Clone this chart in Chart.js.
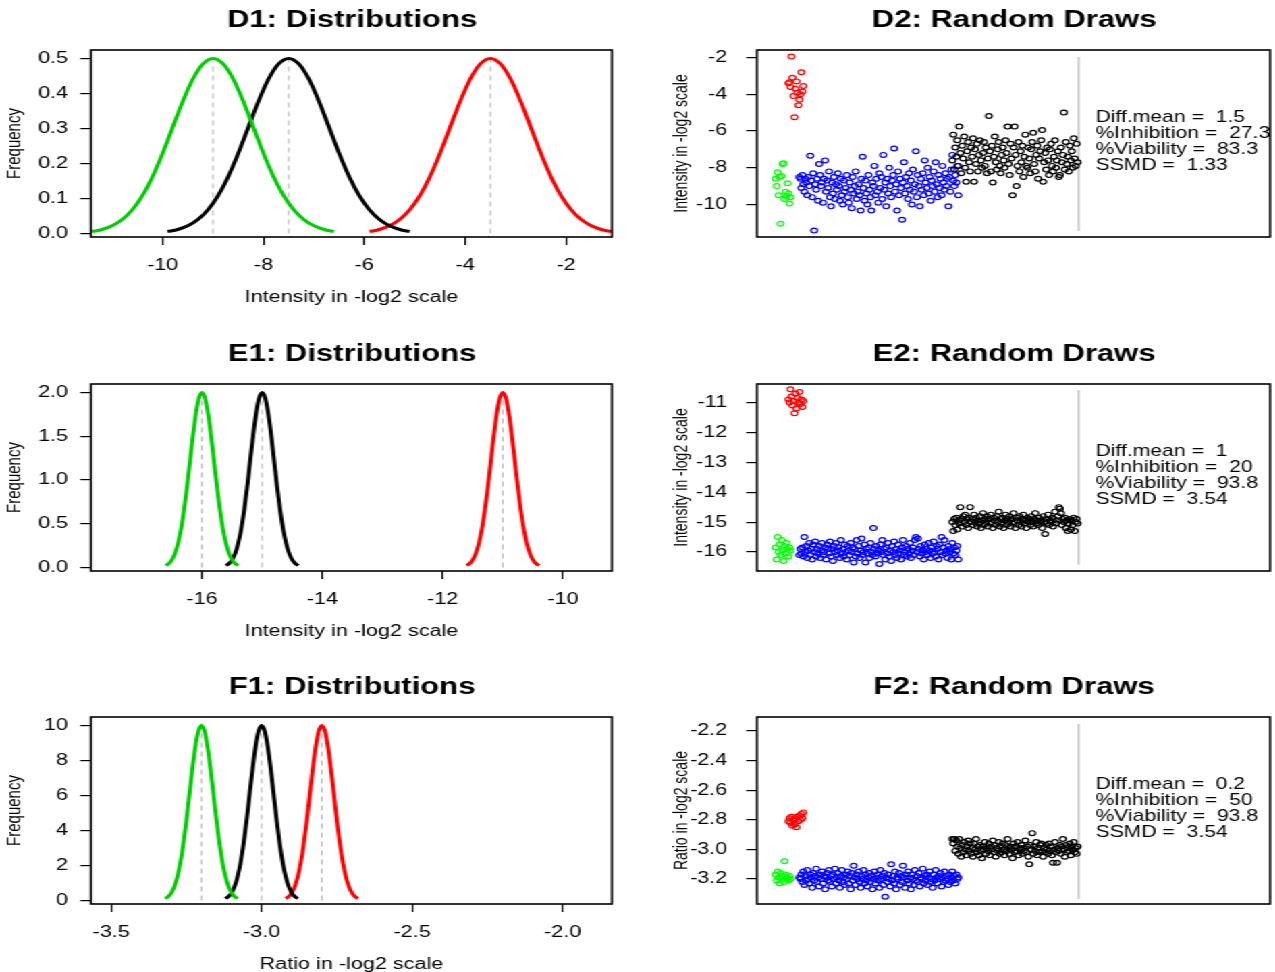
<!DOCTYPE html>
<html><head><meta charset="utf-8">
<script src="https://cdn.jsdelivr.net/npm/chart.js@4.4.1/dist/chart.umd.min.js"></script>
<style>
html,body{margin:0;padding:0;background:#fff;width:1275px;height:972px;overflow:hidden}
#page{position:absolute;left:0;top:0;width:944.44px;height:972px;overflow:hidden;transform:scaleX(1.35);transform-origin:0 0;background:#fff}
canvas{position:absolute}
</style></head>
<body><div id="page">
<canvas id="D1" width="472" height="334" style="left:0;top:0"></canvas>
<canvas id="D2" width="474" height="334" style="left:472px;top:0"></canvas>
<canvas id="E1" width="472" height="334" style="left:0;top:334px"></canvas>
<canvas id="E2" width="474" height="334" style="left:472px;top:334px"></canvas>
<canvas id="F1" width="472" height="334" style="left:0;top:667px"></canvas>
<canvas id="F2" width="474" height="334" style="left:472px;top:667px"></canvas>
</div>
<script>
// ---------- distributions (left column) ----------
const d1Freq = [0.0056,0.0114,0.0220,0.0398,0.0677,0.1081,0.1623,0.2289,0.3033,0.3774,0.4412,0.4846,0.5000,0.4846,0.4412,0.3774,0.3033,0.2289,0.1623,0.1081,0.0677,0.0398,0.0220,0.0114,0.0056];
const d1GreenX = [-11.4,-11.2,-11.0,-10.8,-10.6,-10.4,-10.2,-10.0,-9.8,-9.6,-9.4,-9.2,-9.0,-8.8,-8.6,-8.4,-8.2,-8.0,-7.8,-7.6,-7.4,-7.2,-7.0,-6.8,-6.6];
const d1BlackX = [-9.9,-9.7,-9.5,-9.3,-9.1,-8.9,-8.7,-8.5,-8.3,-8.1,-7.9,-7.7,-7.5,-7.3,-7.1,-6.9,-6.7,-6.5,-6.3,-6.1,-5.9,-5.7,-5.5,-5.3,-5.1];
const d1RedX = [-5.9,-5.7,-5.5,-5.3,-5.1,-4.9,-4.7,-4.5,-4.3,-4.1,-3.9,-3.7,-3.5,-3.3,-3.1,-2.9,-2.7,-2.5,-2.3,-2.1,-1.9,-1.7,-1.5,-1.3,-1.1];
const d1Means = [-9, -7.5, -3.5];
const d1Peak = 0.5;
const d1XTicks = [-10,-8,-6,-4,-2];
const d1XLabels = ["-10","-8","-6","-4","-2"];
const d1YTicks = [0,0.1,0.2,0.3,0.4,0.5];
const d1YLabels = ["0.0","0.1","0.2","0.3","0.4","0.5"];

const e1Freq = [0.0222,0.0456,0.0879,0.1591,0.2707,0.4325,0.6493,0.9157,1.2131,1.5097,1.7650,1.9385,2.0000,1.9385,1.7650,1.5097,1.2131,0.9157,0.6493,0.4325,0.2707,0.1591,0.0879,0.0456,0.0222];
const e1GreenX = [-16.6,-16.55,-16.5,-16.45,-16.4,-16.35,-16.3,-16.25,-16.2,-16.15,-16.1,-16.05,-16.0,-15.95,-15.9,-15.85,-15.8,-15.75,-15.7,-15.65,-15.6,-15.55,-15.5,-15.45,-15.4];
const e1BlackX = [-15.6,-15.55,-15.5,-15.45,-15.4,-15.35,-15.3,-15.25,-15.2,-15.15,-15.1,-15.05,-15.0,-14.95,-14.9,-14.85,-14.8,-14.75,-14.7,-14.65,-14.6,-14.55,-14.5,-14.45,-14.4];
const e1RedX = [-11.6,-11.55,-11.5,-11.45,-11.4,-11.35,-11.3,-11.25,-11.2,-11.15,-11.1,-11.05,-11.0,-10.95,-10.9,-10.85,-10.8,-10.75,-10.7,-10.65,-10.6,-10.55,-10.5,-10.45,-10.4];
const e1Means = [-16, -15, -11];
const e1Peak = 2;
const e1XTicks = [-16,-14,-12,-10];
const e1XLabels = ["-16","-14","-12","-10"];
const e1YTicks = [0,0.5,1,1.5,2];
const e1YLabels = ["0.0","0.5","1.0","1.5","2.0"];

const f1Freq = [0.111,0.228,0.439,0.796,1.353,2.163,3.247,4.578,6.065,7.548,8.825,9.692,10.0,9.692,8.825,7.548,6.065,4.578,3.247,2.163,1.353,0.796,0.439,0.228,0.111];
const f1GreenX = [-3.32,-3.31,-3.30,-3.29,-3.28,-3.27,-3.26,-3.25,-3.24,-3.23,-3.22,-3.21,-3.20,-3.19,-3.18,-3.17,-3.16,-3.15,-3.14,-3.13,-3.12,-3.11,-3.10,-3.09,-3.08];
const f1BlackX = [-3.12,-3.11,-3.10,-3.09,-3.08,-3.07,-3.06,-3.05,-3.04,-3.03,-3.02,-3.01,-3.00,-2.99,-2.98,-2.97,-2.96,-2.95,-2.94,-2.93,-2.92,-2.91,-2.90,-2.89,-2.88];
const f1RedX = [-2.92,-2.91,-2.90,-2.89,-2.88,-2.87,-2.86,-2.85,-2.84,-2.83,-2.82,-2.81,-2.80,-2.79,-2.78,-2.77,-2.76,-2.75,-2.74,-2.73,-2.72,-2.71,-2.70,-2.69,-2.68];
const f1Means = [-3.2, -3.0, -2.8];
const f1Peak = 10;
const f1XTicks = [-3.5,-3.0,-2.5,-2.0];
const f1XLabels = ["-3.5","-3.0","-2.5","-2.0"];
const f1YTicks = [0,2,4,6,8,10];
const f1YLabels = ["0","2","4","6","8","10"];

// ---------- random draws (right column) ----------
const greenStart = 1, redStart = 14, blueStart = 25, blackStart = 180;

const d2Green = [-8.6,-9.0,-8.25,-9.5,-8.5,-11.05,-8.45,-7.8,-7.75,-9.7,-9.3,-9.55,-8.85,-9.4,-9.95,-9.6];
const d2Red = [-3.4,-3.35,-3.6,-1.95,-3.1,-4.1,-5.25,-3.7,-3.3,-3.9,-4.6,-4.3,-4.0,-2.8,-3.85,-3.55];
const d2Blue = [
-8.5,-8.6,-9.1,-8.4,-8.9,-9.3,-8.6,-8.8,-9.5,-8.5,
-9.0,-7.35,-8.7,-9.6,-8.3,-11.42,-8.9,-9.2,-8.6,-9.8,
-7.8,-8.4,-9.0,-8.8,-9.9,-8.6,-7.6,-9.3,-8.7,-9.1,
-8.2,-9.6,-10.1,-8.8,-9.4,-8.5,-9.7,-8.9,-9.2,-8.3,
-9.0,-9.8,-8.6,-9.5,-10.0,-8.7,-9.3,-9.1,-8.4,-9.6,
-9.9,-8.8,-9.2,-10.2,-8.5,-9.4,-9.0,-8.2,-9.7,-9.3,
-8.9,-9.5,-10.33,-8.6,-7.4,-9.1,-9.8,-8.7,-9.4,-10.0,
-8.4,-9.2,-9.6,-10.33,-8.8,-9.0,-7.9,-9.5,-8.6,-9.3,
-9.9,-8.3,-9.1,-8.5,-9.7,-7.3,-9.2,-8.8,-10.1,-8.6,
-9.4,-8.0,-9.0,-9.6,-8.7,-8.4,-6.95,-9.3,-8.9,-10.33,
-8.2,-9.5,-8.6,-9.1,-10.83,-8.8,-7.7,-9.4,-8.5,-9.0,
-9.7,-8.3,-9.2,-8.7,-10.0,-8.1,-9.3,-8.9,-7.1,-9.6,
-8.4,-9.0,-10.1,-8.6,-9.2,-8.3,-9.5,-7.6,-8.8,-9.1,
-8.0,-9.4,-8.5,-9.8,-8.7,-9.0,-8.2,-9.3,-7.7,-8.9,
-9.6,-8.4,-9.1,-8.6,-9.5,-7.9,-8.8,-9.2,-8.3,-9.0,
-8.6,-10.1,-8.5,-9.3,-8.1,-7.3,-8.7,-9.0,-8.4,-8.8,-7.9,-9.5];
const d2Black = [
-7.6,-6.2,-8.1,-6.9,-7.4,-6.5,-7.9,-5.76,-7.2,-8.3,
-6.8,-7.5,-6.3,-8.0,-8.76,-7.1,-6.6,-7.7,-8.2,-6.9,
-7.4,-6.4,-8.76,-7.0,-7.8,-6.7,-8.2,-7.3,-6.5,-7.6,
-8.0,-7.2,-6.6,-7.9,-6.9,-8.3,-7.5,-5.18,-7.1,-8.2,
-6.8,-8.8,-7.4,-6.3,-7.7,-8.1,-7.0,-6.6,-7.9,-8.3,
-7.3,-6.9,-7.6,-8.0,-6.5,-7.2,-5.76,-7.8,-8.4,-6.7,
-7.5,-9.5,-6.9,-5.76,-7.3,-9.0,-7.9,-6.6,-8.2,-7.1,
-7.7,-6.8,-8.5,-7.4,-6.2,-7.9,-8.0,-6.9,-7.5,-8.3,
-7.0,-6.6,-6.1,-7.8,-8.2,-7.3,-6.8,-8.6,-7.5,-7.1,
-6.5,-5.95,-8.76,-7.7,-7.2,-8.1,-6.9,-7.6,-8.4,-7.0,
-6.7,-7.9,-8.2,-7.4,-6.5,-8.0,-7.6,-7.1,-8.5,-8.4,
-6.9,-7.7,-7.3,-5.0,-8.1,-6.6,-7.8,-7.4,-8.2,-6.8,
-7.6,-7.1,-8.0,-6.4,-7.5,-7.9,-6.7,-7.7];
const d2Sep = [-1.97, -11.44];
const d2YTicks = [-10,-8,-6,-4,-2];
const d2YLabels = ["-10","-8","-6","-4","-2"];
const d2Notes = ["Diff.mean =  1.5","%Inhibition =  27.3","%Viability =  83.3","SSMD =  1.33"];

const e2Green = [-15.85,-16.25,-15.5,-16.0,-15.75,-16.1,-15.6,-15.95,-16.3,-15.8,-16.05,-15.7,-15.9,-16.15,-15.85,-15.95];
const e2Red = [-10.9,-11.0,-10.56,-10.8,-11.1,-10.95,-11.36,-10.7,-11.2,-10.85,-11.0,-10.65,-11.05,-10.9,-11.15,-10.95];
const e2Blue = [
-16.1,-15.9,-16.05,-15.85,-16.15,-15.5,-16.0,-15.8,-16.2,-15.95,
-15.7,-16.1,-15.9,-16.25,-15.75,-16.0,-15.65,-16.15,-15.9,-16.05,
-15.8,-16.2,-15.95,-15.7,-16.1,-16.0,-15.85,-16.25,-15.75,-15.9,
-16.05,-15.65,-16.15,-15.9,-16.3,-15.8,-16.0,-15.7,-16.1,-15.95,
-15.85,-16.2,-15.6,-16.05,-15.9,-16.15,-15.75,-16.0,-16.25,-15.8,
-15.95,-16.1,-15.7,-16.0,-15.85,-16.35,-15.9,-16.15,-15.6,-16.05,
-15.8,-16.2,-15.95,-15.55,-16.1,-16.0,-15.75,-16.35,-15.9,-16.05,
-15.85,-16.2,-15.7,-16.0,-16.1,-15.2,-15.9,-16.15,-15.8,-16.05,
-15.95,-16.4,-15.75,-16.0,-15.6,-16.1,-15.9,-16.25,-15.85,-16.05,
-15.7,-16.15,-15.95,-16.3,-15.8,-16.0,-15.65,-16.1,-15.9,-16.2,
-15.75,-16.05,-15.95,-16.25,-15.85,-15.6,-16.1,-16.0,-15.8,-16.15,
-15.9,-16.05,-15.7,-16.2,-15.95,-15.85,-16.1,-15.6,-15.5,-16.0,
-15.55,-15.9,-16.15,-15.8,-16.05,-15.95,-16.25,-15.75,-16.0,-15.9,
-16.1,-15.7,-15.95,-16.2,-15.85,-16.05,-15.65,-16.0,-16.15,-15.8,
-15.9,-16.25,-15.75,-16.0,-15.5,-16.1,-15.85,-15.6,-16.05,-15.95,
-16.2,-15.8,-16.0,-15.9,-16.25,-15.7,-16.05,-15.85,-16.1,-15.95,-15.8,-16.25];
const e2Black = [
-15.0,-15.3,-14.9,-15.1,-14.85,-15.25,-14.95,-15.05,-14.5,-14.9,
-15.15,-14.8,-15.0,-14.75,-15.1,-14.9,-15.2,-14.85,-14.5,-15.0,
-14.9,-15.1,-14.75,-15.0,-14.85,-15.15,-14.95,-15.05,-14.8,-15.2,
-14.95,-14.7,-15.1,-14.9,-15.0,-14.8,-15.15,-14.9,-15.05,-14.75,
-15.0,-15.2,-14.85,-14.95,-15.1,-14.8,-15.0,-14.65,-15.15,-14.9,
-15.05,-14.85,-15.2,-14.95,-14.75,-15.1,-14.9,-15.0,-14.8,-15.15,
-14.9,-15.05,-14.7,-15.0,-15.2,-14.85,-14.95,-15.1,-14.8,-15.0,
-15.15,-14.9,-14.75,-15.05,-14.95,-15.2,-14.85,-15.0,-14.9,-15.1,
-14.8,-15.0,-15.15,-14.9,-14.7,-15.05,-14.95,-15.1,-14.85,-15.0,
-14.95,-15.2,-14.8,-15.0,-15.4,-14.9,-15.05,-14.75,-15.1,-14.95,
-15.0,-14.85,-15.15,-14.9,-14.65,-15.05,-14.95,-14.8,-14.5,-14.55,
-14.7,-15.1,-14.9,-15.0,-14.85,-15.2,-14.95,-15.3,-15.05,-14.9,
-15.25,-14.95,-15.1,-14.85,-15.3,-15.0,-14.9,-15.05];
const e2Sep = [-10.58, -16.43];
const e2YTicks = [-16,-15,-14,-13,-12,-11];
const e2YLabels = ["-16","-15","-14","-13","-12","-11"];
const e2Notes = ["Diff.mean =  1","%Inhibition =  20","%Viability =  93.8","SSMD =  3.54"];

const f2Green = [-3.17,-3.21,-3.15,-3.19,-3.23,-3.16,-3.2,-3.18,-3.22,-3.08,-3.17,-3.2,-3.19,-3.21,-3.18,-3.2];
const f2Red = [-2.81,-2.79,-2.82,-2.78,-2.84,-2.8,-2.83,-2.79,-2.85,-2.78,-2.81,-2.77,-2.8,-2.76,-2.79,-2.75];
const f2Blue = [
-3.19,-3.2,-3.17,-3.22,-3.15,-3.24,-3.18,-3.21,-3.14,-3.2,
-3.23,-3.17,-3.19,-3.26,-3.16,-3.21,-3.18,-3.13,-3.22,-3.19,
-3.25,-3.17,-3.2,-3.15,-3.23,-3.18,-3.27,-3.19,-3.16,-3.21,
-3.14,-3.22,-3.18,-3.25,-3.17,-3.2,-3.13,-3.23,-3.19,-3.16,
-3.21,-3.26,-3.18,-3.14,-3.22,-3.19,-3.24,-3.17,-3.2,-3.15,
-3.23,-3.18,-3.27,-3.16,-3.21,-3.11,-3.19,-3.24,-3.17,-3.2,
-3.15,-3.22,-3.26,-3.18,-3.2,-3.14,-3.23,-3.17,-3.21,-3.25,
-3.19,-3.16,-3.22,-3.18,-3.27,-3.2,-3.15,-3.23,-3.19,-3.17,
-3.21,-3.26,-3.14,-3.2,-3.18,-3.24,-3.16,-3.32,-3.19,-3.22,
-3.17,-3.2,-3.25,-3.1,-3.21,-3.18,-3.23,-3.15,-3.27,-3.19,
-3.2,-3.16,-3.24,-3.18,-3.22,-3.11,-3.19,-3.26,-3.17,-3.21,
-3.15,-3.23,-3.19,-3.27,-3.17,-3.2,-3.24,-3.14,-3.21,-3.18,
-3.22,-3.16,-3.25,-3.19,-3.2,-3.13,-3.23,-3.18,-3.21,-3.17,
-3.24,-3.19,-3.15,-3.22,-3.2,-3.26,-3.17,-3.21,-3.14,-3.19,
-3.23,-3.18,-3.2,-3.16,-3.25,-3.19,-3.22,-3.15,-3.21,-3.18,
-3.2,-3.24,-3.17,-3.22,-3.19,-3.15,-3.21,-3.18,-3.23,-3.17,-3.2,-3.19];
const f2Black = [
-2.93,-2.96,-2.93,-3.01,-2.94,-2.98,-3.03,-2.93,-2.99,-3.05,
-2.97,-3.02,-2.95,-3.0,-3.04,-2.98,-2.94,-3.01,-2.96,-3.03,
-2.99,-3.05,-2.96,-3.0,-2.93,-3.02,-2.98,-3.04,-2.97,-3.01,
-3.06,-2.98,-3.0,-2.95,-3.03,-2.99,-3.01,-2.96,-3.04,-2.98,
-3.0,-2.94,-3.02,-2.97,-3.05,-2.99,-3.01,-2.95,-3.03,-2.98,
-3.02,-2.96,-3.0,-3.04,-2.97,-3.01,-2.93,-2.99,-3.03,-2.98,
-3.0,-3.06,-2.96,-3.02,-2.98,-3.01,-2.95,-3.04,-2.99,-3.0,
-2.97,-3.03,-2.99,-3.01,-2.94,-3.02,-2.98,-3.05,-3.1,-2.97,
-3.0,-2.89,-3.03,-2.98,-3.01,-2.95,-3.04,-2.99,-3.02,-2.97,
-2.96,-3.01,-3.05,-2.99,-3.02,-2.97,-3.0,-3.03,-2.96,-3.01,
-2.98,-3.04,-3.09,-3.0,-2.95,-3.02,-3.09,-2.99,-3.01,-2.97,
-3.03,-2.98,-2.93,-3.0,-3.05,-2.97,-3.02,-2.99,-3.01,-2.96,
-3.04,-2.98,-3.0,-2.95,-3.02,-2.99,-3.03,-2.98];
const f2Sep = [-2.153, -3.335];
const f2YTicks = [-3.2,-3.0,-2.8,-2.6,-2.4,-2.2];
const f2YLabels = ["-3.2","-3.0","-2.8","-2.6","-2.4","-2.2"];
const f2Notes = ["Diff.mean =  0.2","%Inhibition =  50","%Viability =  93.8","SSMD =  3.54"];

const sepX = 308;
const noteX = 325;

// ---------- drawing ----------
const FAMILY = '"Liberation Sans", Arial, Helvetica, sans-serif';
Chart.defaults.font.family = FAMILY;
Chart.defaults.color = '#000';

const boxPlugin = {
  id: 'plotBox',
  afterDatasetsDraw(chart) {
    const {ctx, chartArea: a} = chart;
    ctx.save();
    ctx.strokeStyle = '#000';
    ctx.lineWidth = 1.6;
    ctx.strokeRect(a.left, a.top, a.right - a.left, a.bottom - a.top);
    ctx.restore();
  }
};
const titlePlugin = {
  id: 'panelTitle',
  afterDraw(chart, args, opts) {
    if (!opts || !opts.text) return;
    const {ctx, chartArea: a} = chart;
    ctx.save();
    ctx.font = 'bold 23px ' + FAMILY;
    ctx.fillStyle = '#000';
    ctx.textAlign = 'center';
    ctx.textBaseline = 'middle';
    ctx.fillText(opts.text, (a.left + a.right) / 2 + 0.5, a.top - 29.5);
    ctx.restore();
  }
};
const notePlugin = {
  id: 'panelNote',
  afterDraw(chart, args, opts) {
    if (!opts || !opts.lines) return;
    const {ctx, chartArea: a, scales} = chart;
    const x = scales.x.getPixelForValue(opts.x);
    ctx.save();
    ctx.font = '15.7px ' + FAMILY;
    ctx.fillStyle = '#000';
    ctx.textAlign = 'left';
    ctx.textBaseline = 'middle';
    opts.lines.forEach((t, i) => ctx.fillText(t, x, a.top + 67.5 + 16 * i));
    ctx.restore();
  }
};

function fixedTicks(values) { return s => { s.ticks = values.map(v => ({value: v})); }; }

function distPanel(id, c) {
  const datasets = [];
  c.curves.forEach(cv => datasets.push({
    data: cv.xs.map((x, i) => ({x, y: c.freq[i]})),
    showLine: true, borderColor: cv.color, borderWidth: 3, pointRadius: 0,
    cubicInterpolationMode: 'monotone', order: 1
  }));
  c.means.forEach(m => datasets.push({
    data: [{x: m, y: 0}, {x: m, y: c.peak}],
    showLine: true, borderColor: '#BEBEBE', borderWidth: 1.2, borderDash: [5, 4], pointRadius: 0, order: 2
  }));
  new Chart(document.getElementById(id), {
    type: 'scatter',
    data: {datasets},
    options: {
      responsive: false, animation: false, events: [],
      layout: {padding: {top: 50, right: 18.7, left: 0, bottom: 0}},
      plugins: {legend: {display: false}, tooltip: {enabled: false}, panelTitle: {text: c.title}},
      scales: {
        x: {
          type: 'linear', min: c.xMin, max: c.xMax,
          afterBuildTicks: fixedTicks(c.xTicks),
          afterFit: s => { s.height = 97; },
          ticks: {autoSkip: false, maxRotation: 0, padding: 10.5, font: {size: 16}, color: '#000', callback: (v, i) => c.xLabels[i]},
          grid: {drawOnChartArea: false, drawTicks: true, tickLength: 8, color: '#000', lineWidth: 1.2},
          border: {display: false},
          title: {display: true, text: c.xTitle, font: {size: 16}, color: '#000', padding: {top: 0, bottom: 26.5}}
        },
        y: {
          type: 'linear', min: c.yMin, max: c.yMax,
          afterBuildTicks: fixedTicks(c.yTicks),
          afterFit: s => { s.width = 67.4; },
          ticks: {autoSkip: false, padding: 9, font: {size: 16}, color: '#000', callback: (v, i) => c.yLabels[i]},
          grid: {drawOnChartArea: false, drawTicks: true, tickLength: 8, color: '#000', lineWidth: 1.2},
          border: {display: false},
          title: {display: true, text: 'Frequency', font: {size: 15}, color: '#000', padding: {top: 1.5, bottom: 0}}
        }
      }
    },
    plugins: [boxPlugin, titlePlugin]
  });
}

function pts(start, vals) { return vals.map((y, i) => ({x: start + i, y})); }

function drawPanel(id, c) {
  const ring = (data, color, order) => ({
    data, borderColor: color, backgroundColor: 'rgba(0,0,0,0)', pointRadius: 2.4,
    borderWidth: 1.2, pointBorderWidth: 1.2, showLine: false, order
  });
  const datasets = [
    ring(pts(blackStart, c.black), '#000000', 1),
    ring(pts(blueStart, c.blue), '#0000FF', 2),
    ring(pts(redStart, c.red), '#FF0000', 3),
    ring(pts(greenStart, c.green), '#00FF00', 4),
    {data: [{x: sepX, y: c.sep[0]}, {x: sepX, y: c.sep[1]}], showLine: true, borderColor: '#C4C4C4', borderWidth: 1.5, pointRadius: 0, order: 5}
  ];
  new Chart(document.getElementById(id), {
    type: 'scatter',
    data: {datasets},
    options: {
      responsive: false, animation: false, events: [],
      layout: {padding: {top: 50, right: 0, left: 0, bottom: 97}},
      plugins: {legend: {display: false}, tooltip: {enabled: false}, panelTitle: {text: c.title}, panelNote: {x: noteX, lines: c.notes}},
      scales: {
        x: {type: 'linear', min: -18, max: 502, display: false},
        y: {
          type: 'linear', min: c.yMin, max: c.yMax,
          afterBuildTicks: fixedTicks(c.yTicks),
          afterFit: s => { s.width = 88.7; },
          ticks: {autoSkip: false, padding: 14, font: {size: 16}, color: '#000', callback: (v, i) => c.yLabels[i]},
          grid: {drawOnChartArea: false, drawTicks: true, tickLength: 8, color: '#000', lineWidth: 1.2},
          border: {display: false},
          title: {display: true, text: c.yTitle, font: {size: 14}, color: '#000', padding: {top: 25, bottom: 0}}
        }
      }
    },
    plugins: [boxPlugin, titlePlugin, notePlugin]
  });
}

distPanel('D1', {title: 'D1: Distributions', freq: d1Freq, peak: d1Peak, means: d1Means,
  curves: [{xs: d1GreenX, color: '#00CD00'}, {xs: d1BlackX, color: '#000000'}, {xs: d1RedX, color: '#FF0000'}],
  xMin: -11.42, xMax: -1.09, yMin: -0.010, yMax: 0.524,
  xTicks: d1XTicks, xLabels: d1XLabels, yTicks: d1YTicks, yLabels: d1YLabels, xTitle: 'Intensity in -log2 scale'});
distPanel('E1', {title: 'E1: Distributions', freq: e1Freq, peak: e1Peak, means: e1Means,
  curves: [{xs: e1GreenX, color: '#00CD00'}, {xs: e1BlackX, color: '#000000'}, {xs: e1RedX, color: '#FF0000'}],
  xMin: -17.845, xMax: -9.186, yMin: -0.04, yMax: 2.097,
  xTicks: e1XTicks, xLabels: e1XLabels, yTicks: e1YTicks, yLabels: e1YLabels, xTitle: 'Intensity in -log2 scale'});
distPanel('F1', {title: 'F1: Distributions', freq: f1Freq, peak: f1Peak, means: f1Means,
  curves: [{xs: f1GreenX, color: '#00CD00'}, {xs: f1BlackX, color: '#000000'}, {xs: f1RedX, color: '#FF0000'}],
  xMin: -3.567, xMax: -1.836, yMin: -0.2, yMax: 10.486,
  xTicks: f1XTicks, xLabels: f1XLabels, yTicks: f1YTicks, yLabels: f1YLabels, xTitle: 'Ratio in -log2 scale'});

drawPanel('D2', {title: 'D2: Random Draws', green: d2Green, red: d2Red, blue: d2Blue, black: d2Black, sep: d2Sep,
  yMin: -11.769, yMax: -1.592, yTicks: d2YTicks, yLabels: d2YLabels, yTitle: 'Intensity in -log2 scale', notes: d2Notes});
drawPanel('E2', {title: 'E2: Random Draws', green: e2Green, red: e2Red, blue: e2Blue, black: e2Black, sep: e2Sep,
  yMin: -16.635, yMax: -10.381, yTicks: e2YTicks, yLabels: e2YLabels, yTitle: 'Intensity in -log2 scale', notes: e2Notes});
drawPanel('F2', {title: 'F2: Random Draws', green: f2Green, red: f2Red, blue: f2Blue, black: f2Black, sep: f2Sep,
  yMin: -3.369, yMax: -2.105, yTicks: f2YTicks, yLabels: f2YLabels, yTitle: 'Ratio in -log2 scale', notes: f2Notes});
</script>
</body></html>
